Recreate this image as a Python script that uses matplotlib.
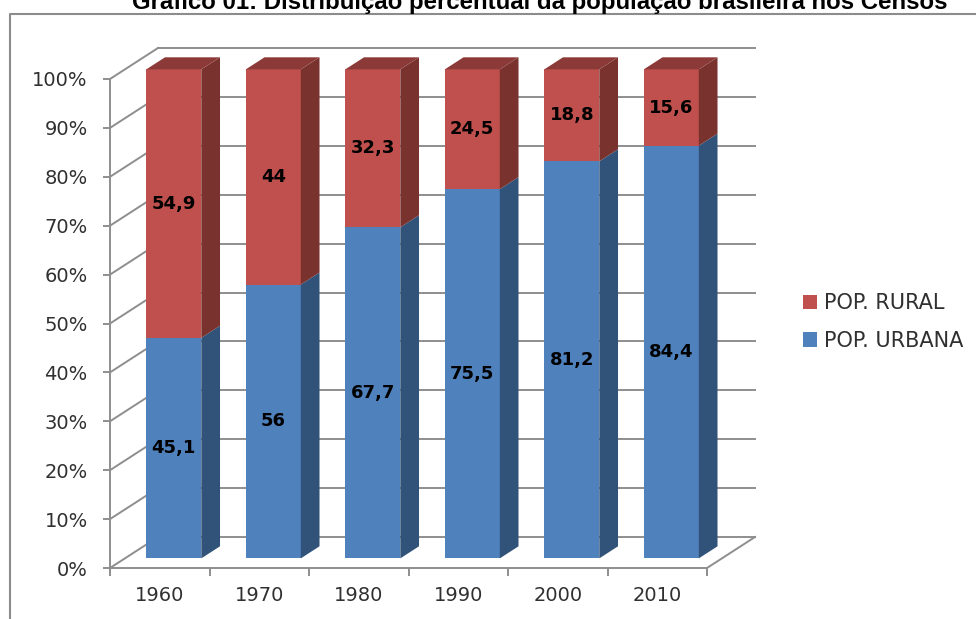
"""Stacked pseudo-3D bars: urban and rural share of the Brazilian population."""

import matplotlib
matplotlib.use("Agg")

import matplotlib.pyplot as plt
from matplotlib.lines import Line2D
from matplotlib.patches import Patch, Polygon

YEARS = ["1960", "1970", "1980", "1990", "2000", "2010"]
URBANA = [45.1, 56, 67.7, 75.5, 81.2, 84.4]
RURAL = [54.9, 44, 32.3, 24.5, 18.8, 15.6]
RURAL_LABELS = ["54,9", "44", "32,3", "24,5", "18,8", "15,6"]
URBANA_LABELS = ["45,1", "56", "67,7", "75,5", "81,2", "84,4"]
Y_TICKS = list(range(0, 101, 10))

BLUE = ("#4F81BD", "#325379", "#3E6797")
RED = ("#C0504D", "#7A322F", "#8C3A38")
GRID = "#8E8E8E"
TEXT = "#303030"

# oblique offset of the back wall, in axis units (48 px right, 31 px up)
DEPTH_X = 48 / 99.5
DEPTH_Y = 31 / 4.89
BAR_WIDTH = 0.553
BAR_START = 0.215
D_FRONT = 0.31
D_BACK = 0.70


def project(x, y, d):
    return (x + d * DEPTH_X, y + d * DEPTH_Y)


def draw_segment(ax, x, y0, y1, colors, top=False):
    x1 = x + BAR_WIDTH
    face = [project(x, y0, D_FRONT), project(x1, y0, D_FRONT),
            project(x1, y1, D_FRONT), project(x, y1, D_FRONT)]
    side = [project(x1, y0, D_FRONT), project(x1, y0, D_BACK),
            project(x1, y1, D_BACK), project(x1, y1, D_FRONT)]
    ax.add_patch(Polygon(face, fc=colors[0], ec="none", zorder=5, clip_on=False))
    ax.add_patch(Polygon(side, fc=colors[1], ec="none", zorder=5, clip_on=False))
    if top:
        cap = [project(x, y1, D_FRONT), project(x1, y1, D_FRONT),
               project(x1, y1, D_BACK), project(x, y1, D_BACK)]
        ax.add_patch(Polygon(cap, fc=colors[2], ec="none", zorder=5, clip_on=False))


fig = plt.figure(figsize=(9.76, 6.19), dpi=100)
ax = fig.add_axes([110 / 976, 1 - 568 / 619, 597 / 976, 489 / 619])
ax.set_xlim(0, len(YEARS))
ax.set_ylim(0, 100)
ax.patch.set_visible(False)

# walls and floor
n = len(YEARS)
for v in Y_TICKS:
    ax.plot([project(0, v, 1)[0], project(n, v, 1)[0]],
            [project(0, v, 1)[1]] * 2, color=GRID, lw=1.4, zorder=1, clip_on=False)
    ax.plot([0, DEPTH_X], [v, v + DEPTH_Y], color=GRID, lw=1.4, zorder=1, clip_on=False)
ax.plot([n, n + DEPTH_X], [0, DEPTH_Y], color=GRID, lw=1.4, zorder=1, clip_on=False)

for i in range(n):
    x = i + BAR_START
    draw_segment(ax, x, 0, URBANA[i], BLUE)
    draw_segment(ax, x, URBANA[i], URBANA[i] + RURAL[i], RED, top=True)
    cx = x + BAR_WIDTH / 2 + D_FRONT * DEPTH_X
    ax.text(cx, D_FRONT * DEPTH_Y + URBANA[i] / 2, URBANA_LABELS[i], ha="center",
            va="center", fontsize=13, fontweight="bold", color="black", zorder=6)
    ax.text(cx, D_FRONT * DEPTH_Y + URBANA[i] + RURAL[i] / 2, RURAL_LABELS[i], ha="center",
            va="center", fontsize=13, fontweight="bold", color="black", zorder=6)

# axes: ticks sit on the category edges, labels between them
ax.spines["top"].set_visible(False)
ax.spines["right"].set_visible(False)
for name in ("left", "bottom"):
    ax.spines[name].set_color(GRID)
    ax.spines[name].set_linewidth(1.4)
ax.set_yticks(Y_TICKS)
ax.set_yticklabels([f"{v}%" for v in Y_TICKS], fontsize=14, color=TEXT)
ax.set_xticks(range(n + 1))
ax.set_xticklabels([])
ax.set_xticks([i + 0.5 for i in range(n)], minor=True)
ax.set_xticklabels(YEARS, minor=True, fontsize=14, color=TEXT)
ax.tick_params(axis="y", length=5, width=1.4, color=GRID, pad=11)
ax.tick_params(axis="x", which="major", length=6, width=1.4, color=GRID)
ax.tick_params(axis="x", which="minor", length=0, pad=13)

handles = [Patch(fc=RED[0], label="POP. RURAL"), Patch(fc=BLUE[0], label="POP. URBANA")]
fig.legend(handles=handles, loc="center left", bbox_to_anchor=(803 / 976, 1 - 322 / 619),
           frameon=False, fontsize=15, labelcolor=TEXT, handlelength=0.67, handleheight=0.67,
           handletextpad=0.34, labelspacing=0.85, borderpad=0, borderaxespad=0)

# outer chart frame, runs off the right and bottom of the picture
fig.add_artist(Line2D([9.5 / 976, 9.5 / 976, 1], [0, 1 - 14 / 619, 1 - 14 / 619],
                      color="#8C8C8C", lw=1.5))

fig.text(539.5 / 976, 1 - 9 / 619,
         "Gráfico 01: Distribuição percentual da população brasileira nos Censos",
         ha="center", va="baseline", fontsize=17.3, fontweight="bold",
         family="Liberation Sans", color="black")

fig.savefig("out.png", dpi=100, facecolor="white")
plt.close(fig)
